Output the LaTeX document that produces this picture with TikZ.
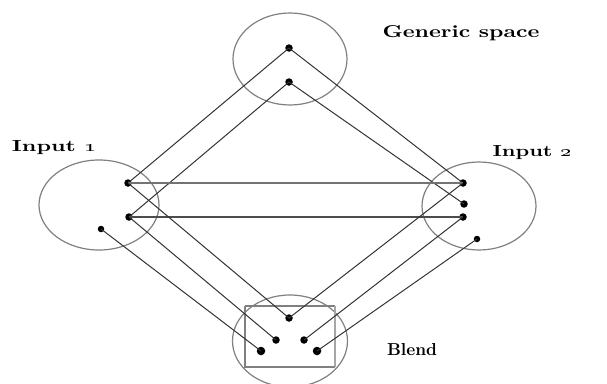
\documentclass[tikz,border=0pt]{standalone}
\usepackage{graphicx}
\begin{document}
\begin{tikzpicture}[x=1pt,y=-1pt,
  space/.style={draw=black!50,line width=1.2pt},
  link/.style={draw=black!80,line width=1pt},
  pt/.style={circle,fill=black,inner sep=0pt,minimum size=7.5pt},
  spt/.style={circle,fill=black,inner sep=0pt,minimum size=6.5pt},
  bpt/.style={circle,fill=black,inner sep=0pt,minimum size=8.5pt},
  lbl/.style={inner sep=0pt,anchor=center}]
\useasboundingbox (0,0) rectangle (607,383);
% spaces
\draw[space] (290,59) ellipse [x radius=57, y radius=46];
\draw[space] (99,205) ellipse [x radius=60, y radius=45];
\draw[space] (479,206) ellipse [x radius=57, y radius=44];
\draw[space] (290,341) ellipse [x radius=57.5, y radius=46];
\draw[draw=black!50,line width=1.3pt] (245,306) -- (245,367) -- (335,367);
\draw[draw=black!50,line width=1.3pt] (245,306) -- (335,306);
\draw[draw=black!35,line width=1.8pt] (335,306) -- (335,367);
% points
\node[pt] (g1) at (289,48) {};
\node[pt] (g2) at (289,82) {};
\node[pt] (a1) at (128,183) {};
\node[pt] (a2) at (129,217) {};
\node[spt] (a3) at (101,229) {};
\node[pt] (b1) at (463,183) {};
\node[pt] (b2) at (464,204) {};
\node[pt] (b3) at (463,217) {};
\node[spt] (b4) at (477,239) {};
\node[pt] (c1) at (289,318) {};
\node[pt] (c2) at (276,340) {};
\node[pt] (c3) at (304,340) {};
\node[bpt] (c4) at (261,351) {};
\node[bpt] (c5) at (317,351) {};
% connectors
\draw[link] (g1.center) -- (a1.center);
\draw[link] (g2.center) -- (a2.center);
\draw[link] (g1.center) -- (b1.center);
\draw[link] (g2.center) -- (b2.center);
\draw[draw=black!55,line width=2pt] (a1.center) -- (b1.center);
\draw[draw=black!70,line width=1.1pt] (a2.center) -- (b3.center);
\draw[link] (a1.center) -- (c1.center);
\draw[link] (b1.center) -- (c1.center);
\draw[link] (a2.center) -- (c2.center);
\draw[link] (b3.center) -- (c3.center);
\draw[link] (a3.center) -- (c4.center);
\draw[link] (b4.center) -- (c5.center);
% labels
\node[lbl] (tg) at (461,33) {\resizebox{157pt}{12pt}{\bfseries Generic space}};
\node[lbl] (t1) at (54,148) {\resizebox{84pt}{11pt}{\bfseries Input \oldstylenums{1}}};
\node[lbl] (t2) at (532,153) {\resizebox{79pt}{11pt}{\bfseries Input \oldstylenums{2}}};
\node[lbl] (tb) at (412,350) {\resizebox{50pt}{12pt}{\bfseries Blend}};
\end{tikzpicture}
\end{document}
